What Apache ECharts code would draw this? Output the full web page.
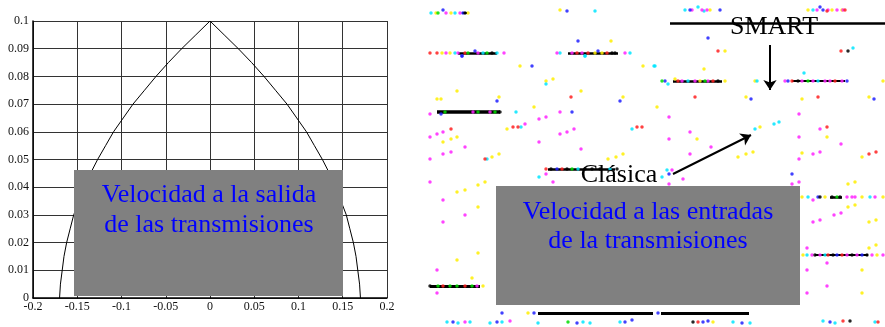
<!DOCTYPE html>
<html>
<head>
<meta charset="utf-8">
<script src="https://cdn.jsdelivr.net/npm/echarts@6/dist/echarts.min.js"></script>
<style>
  html, body { margin: 0; padding: 0; background: #fff; }
  #chart { width: 885px; height: 327px; }
</style>
</head>
<body>
<div id="chart"></div>
<script>
// ---- panel izquierdo: perfil de velocidad a la salida ----
const xTicks = [-0.2, -0.15, -0.1, -0.05, 0, 0.05, 0.1, 0.15, 0.2];
const yTicks = [0, 0.01, 0.02, 0.03, 0.04, 0.05, 0.06, 0.07, 0.08, 0.09, 0.1];
const perfilX = [-0.170, -0.169, -0.167, -0.165, -0.162, -0.158, -0.154, -0.148, -0.142, -0.135, -0.127,
                 -0.118, -0.109, -0.098, -0.087, -0.074, -0.061, -0.047, -0.032, -0.016, 0,
                 0.016, 0.032, 0.047, 0.061, 0.074, 0.087, 0.098, 0.109, 0.118, 0.127,
                 0.135, 0.142, 0.148, 0.154, 0.158, 0.162, 0.165, 0.167, 0.169, 0.170];
const perfilY = [0, 0.005, 0.01, 0.015, 0.02, 0.025, 0.03, 0.035, 0.04, 0.045, 0.05,
                 0.055, 0.06, 0.065, 0.07, 0.075, 0.08, 0.085, 0.09, 0.095, 0.1,
                 0.095, 0.09, 0.085, 0.08, 0.075, 0.07, 0.065, 0.06, 0.055, 0.05,
                 0.045, 0.04, 0.035, 0.03, 0.025, 0.02, 0.015, 0.01, 0.005, 0];

// ---- panel derecho: puntos de las entradas (columna, fila) ----
const puntosRojo = [
  [430, 53], [437, 53], [465, 53], [577, 53], [588, 53], [607, 53],
  [571, 97], [513, 127], [518, 127], [451, 129], [485, 159], [637, 127], [642, 127],
  [718, 51], [841, 51], [695, 97], [818, 97], [827, 127], [869, 154], [876, 152],
  [678, 81], [713, 81], [792, 81], [835, 81], [827, 11], [845, 10],
  [546, 169], [562, 169], [828, 255], [842, 255], [443, 286], [465, 286],
  [698, 322], [843, 321], [878, 322]
];
const puntosAmarillo = [
  [436, 13], [451, 13], [468, 13], [442, 53], [450, 53], [595, 53], [602, 53],
  [560, 10], [611, 41], [520, 66], [643, 66], [553, 79], [546, 81], [457, 91], [581, 91],
  [437, 99], [441, 99], [499, 97], [623, 97], [534, 107], [507, 129], [443, 142],
  [451, 139], [457, 137], [492, 157], [499, 154], [608, 159], [616, 157], [623, 154],
  [710, 10], [808, 10], [832, 10], [842, 10], [725, 51], [704, 69], [675, 79], [700, 81],
  [725, 81], [755, 81], [883, 81], [746, 97], [802, 99], [869, 97], [657, 107], [760, 127],
  [697, 139], [827, 137], [738, 157], [746, 154], [753, 152], [862, 157], [802, 153],
  [457, 192], [465, 190], [478, 185], [485, 182], [478, 207], [457, 260], [478, 253],
  [472, 278], [483, 286], [528, 313], [802, 197], [825, 197], [862, 197], [883, 197],
  [848, 184], [855, 182], [848, 207], [855, 205], [869, 222], [876, 220], [862, 270],
  [862, 293], [869, 248], [876, 245], [803, 255], [877, 255], [713, 322]
];
const puntosCian = [
  [431, 13], [455, 13], [455, 53], [483, 53], [497, 53], [560, 53], [585, 56], [630, 53],
  [595, 11], [585, 56], [654, 66], [546, 84], [516, 112], [521, 127], [632, 129], [487, 159],
  [685, 10], [698, 7], [704, 11], [813, 10], [853, 48], [655, 66], [804, 73], [668, 84],
  [688, 81], [757, 81], [818, 81], [755, 129], [774, 124], [779, 122], [578, 169], [610, 169],
  [539, 177], [662, 177], [667, 170], [808, 197], [870, 197], [807, 255], [825, 255],
  [447, 322], [458, 323], [470, 322], [490, 323], [502, 322], [538, 323], [583, 322],
  [590, 323], [620, 322], [733, 322], [750, 323], [823, 321], [835, 323], [875, 322]
];
const puntosMagenta = [
  [446, 13], [460, 13], [446, 53], [458, 53], [478, 53], [504, 53], [557, 53], [572, 53],
  [582, 53], [625, 53], [430, 114], [473, 112], [490, 112], [560, 112], [546, 117], [539, 119],
  [525, 124], [443, 132], [437, 134], [430, 137], [465, 147], [539, 142], [560, 134], [567, 132],
  [574, 129], [581, 149], [443, 154], [451, 152], [430, 159],
  [692, 10], [702, 10], [707, 10], [817, 10], [828, 10], [837, 10], [843, 10], [682, 81],
  [695, 81], [708, 81], [785, 81], [802, 81], [813, 81], [825, 81], [830, 81], [842, 81],
  [669, 117], [799, 114], [820, 129], [690, 132], [669, 139], [799, 137], [711, 147],
  [841, 144], [690, 154], [813, 154], [820, 152], [799, 159],
  [430, 182], [546, 174], [553, 182], [443, 200], [465, 215], [443, 222], [437, 270],
  [437, 293], [477, 286], [672, 170], [683, 179], [669, 184], [799, 182], [792, 184],
  [813, 200], [847, 197], [852, 197], [855, 197], [875, 197], [813, 222], [820, 220],
  [834, 215], [841, 213], [807, 248], [827, 263], [807, 270], [827, 286], [807, 293],
  [812, 255], [820, 255], [847, 255], [857, 255], [872, 255], [883, 255],
  [465, 322], [510, 321]
];
const puntosAzul = [
  [443, 10], [463, 13], [462, 56], [475, 51], [598, 51], [567, 11], [578, 41], [462, 56],
  [532, 66], [497, 101], [620, 101], [441, 114], [572, 112],
  [690, 10], [720, 10], [820, 7], [823, 10], [708, 38], [665, 81], [751, 99], [874, 99],
  [788, 81], [847, 81], [557, 169], [669, 174], [792, 174], [818, 197], [837, 255], [862, 255],
  [502, 313], [534, 313], [658, 313], [453, 322], [497, 322], [577, 323], [625, 322],
  [632, 320], [703, 322], [708, 321], [742, 323], [830, 322]
];
const puntosVerde = [
  [438, 13], [468, 53], [487, 53], [445, 112], [478, 112], [495, 112], [662, 81], [705, 81],
  [808, 81], [572, 169], [837, 197], [438, 286], [450, 286], [457, 286], [472, 286], [568, 322]
];
const puntosNegro = [
  [465, 13], [492, 53], [612, 53], [615, 53], [500, 112], [718, 81], [798, 81], [848, 51],
  [551, 169], [567, 169], [585, 169], [592, 169], [600, 169], [617, 169], [820, 197], [832, 197],
  [840, 197], [815, 255], [833, 255], [852, 255], [867, 255], [430, 286], [693, 322], [850, 321]
];
// tramos horizontales negros: [inicio, fin, fila, grosor]
const tramos = [
  [462, 467, 13, 2], [458, 497, 53, 2.5], [568, 618, 53, 2.5], [437, 500, 112, 3.5],
  [673, 722, 81, 2.5], [792, 845, 81, 2], [548, 615, 169, 2.5], [830, 842, 197, 2.5],
  [815, 868, 255, 2], [430, 480, 286, 3], [538, 653, 313, 3], [661, 749, 313, 3]
];
// línea SMART y flechas: [x0, y0, x1, y1]
const lineaSmart = [670, 23, 885, 23];
const flechaSmart = [770, 45, 770, 90];
const flechaClasica = [673, 174, 751, 135];

const serif = '"Liberation Serif", "DejaVu Serif", serif';
const chart = echarts.init(document.getElementById('chart'));

function scatter(nombre, datos, color) {
  return {
    name: nombre, type: 'scatter', xAxisIndex: 1, yAxisIndex: 1,
    data: datos, symbolSize: 3.5, silent: true,
    itemStyle: { color: color, opacity: 0.85 }, z: 3
  };
}

const option = {
  animation: false,
  backgroundColor: '#fff',
  grid: [
    { left: 33, top: 21, width: 354, height: 277 },
    { left: 425, top: 0, width: 460, height: 327 }
  ],
  xAxis: [
    {
      gridIndex: 0, type: 'value', min: -0.2, max: 0.2, interval: 0.05,
      axisLine: { onZero: false, lineStyle: { color: '#000', width: 1.5 } },
      axisTick: { show: false },
      axisLabel: { color: '#111', fontFamily: serif, fontSize: 12, margin: 3,
        formatter: v => String(Math.round(v * 100) / 100) },
      splitLine: { show: true, lineStyle: { color: '#333', width: 1 } }
    },
    { gridIndex: 1, type: 'value', min: 425, max: 885, show: false }
  ],
  yAxis: [
    {
      gridIndex: 0, type: 'value', min: 0, max: 0.1, interval: 0.01,
      axisLine: { show: true, onZero: false, lineStyle: { color: '#000', width: 1.5 } },
      axisTick: { show: false },
      axisLabel: { color: '#111', fontFamily: serif, fontSize: 12, margin: 4,
        formatter: v => String(Math.round(v * 100) / 100) },
      splitLine: { show: true, lineStyle: { color: '#333', width: 1 } }
    },
    { gridIndex: 1, type: 'value', min: 0, max: 327, inverse: true, show: false }
  ],
  series: [
    {
      name: 'perfil', type: 'line', xAxisIndex: 0, yAxisIndex: 0,
      data: perfilX.map((x, i) => [x, perfilY[i]]),
      showSymbol: false, silent: true,
      lineStyle: { color: '#000', width: 1 }, z: 4
    },
    {
      name: 'tramos', type: 'lines', coordinateSystem: 'cartesian2d',
      xAxisIndex: 1, yAxisIndex: 1, silent: true, z: 2,
      data: tramos.map(t => ({ coords: [[t[0], t[2]], [t[1], t[2]]], lineStyle: { width: t[3] } })),
      lineStyle: { color: '#000', opacity: 1 }
    },
    {
      name: 'smart', type: 'lines', coordinateSystem: 'cartesian2d',
      xAxisIndex: 1, yAxisIndex: 1, silent: true, z: 5,
      data: [{ coords: [[lineaSmart[0], lineaSmart[1]], [lineaSmart[2], lineaSmart[3]]] }],
      lineStyle: { color: '#000', width: 2.5, opacity: 1 }
    },
    {
      name: 'flechas', type: 'lines', coordinateSystem: 'cartesian2d',
      xAxisIndex: 1, yAxisIndex: 1, silent: true, z: 5,
      symbol: ['none', 'arrow'], symbolSize: 10,
      data: [flechaSmart, flechaClasica].map(f => ({ coords: [[f[0], f[1]], [f[2], f[3]]] })),
      lineStyle: { color: '#000', width: 2, opacity: 1 }
    },
    scatter('amarillo', puntosAmarillo, '#ffee00'),
    scatter('cian', puntosCian, '#00e5ff'),
    scatter('magenta', puntosMagenta, '#ff22ff'),
    scatter('rojo', puntosRojo, '#ff2020'),
    scatter('azul', puntosAzul, '#2020ff'),
    scatter('verde', puntosVerde, '#00dd00'),
    scatter('negro', puntosNegro, '#000')
  ],
  graphic: [
    { type: 'rect', shape: { x: 74, y: 170, width: 269, height: 126 },
      style: { fill: '#808080' }, z: 100 },
    { type: 'text', x: 209, y: 195, z: 101,
      style: { text: 'Velocidad a la salida', fill: '#0000ff', font: '26px ' + serif,
        align: 'center', verticalAlign: 'middle' } },
    { type: 'text', x: 209, y: 225, z: 101,
      style: { text: 'de las transmisiones', fill: '#0000ff', font: '26px ' + serif,
        align: 'center', verticalAlign: 'middle' } },
    { type: 'rect', shape: { x: 496, y: 186, width: 304, height: 119 },
      style: { fill: '#808080' }, z: 100 },
    { type: 'text', x: 648, y: 212, z: 101,
      style: { text: 'Velocidad a las entradas', fill: '#0000ff', font: '26px ' + serif,
        align: 'center', verticalAlign: 'middle' } },
    { type: 'text', x: 648, y: 241, z: 101,
      style: { text: 'de la transmisiones', fill: '#0000ff', font: '26px ' + serif,
        align: 'center', verticalAlign: 'middle' } },
    { type: 'text', x: 774, y: 27, z: 101,
      style: { text: 'SMART', fill: '#000', font: '26px ' + serif,
        align: 'center', verticalAlign: 'middle' } },
    { type: 'text', x: 619, y: 175, z: 101,
      style: { text: 'Clásica', fill: '#000', font: '26px ' + serif,
        align: 'center', verticalAlign: 'middle' } }
  ]
};

chart.setOption(option);
window.addEventListener('resize', () => chart.resize());
</script>
</body>
</html>
